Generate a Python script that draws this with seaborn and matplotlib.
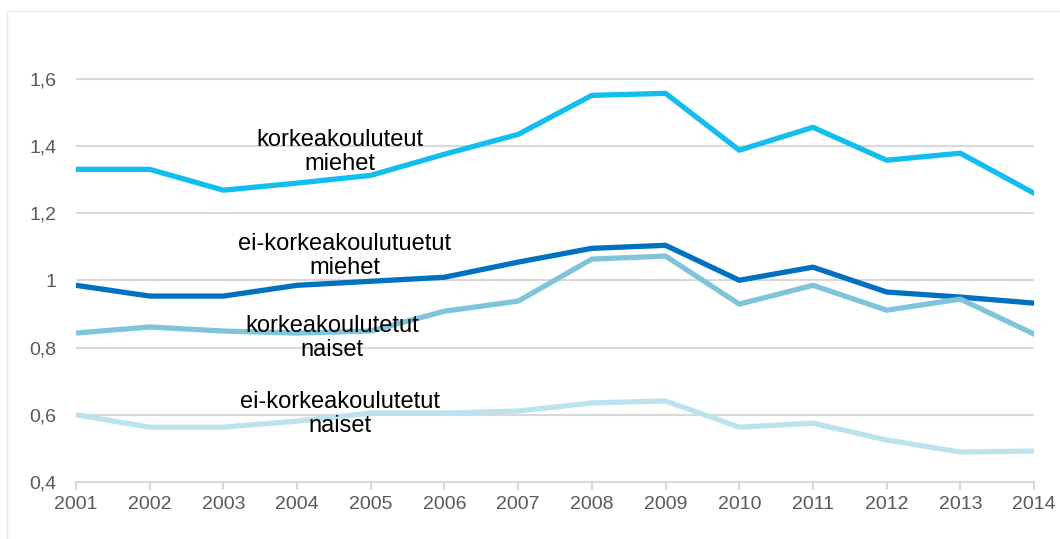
import numpy as np
import pandas as pd
import matplotlib.pyplot as plt
import seaborn as sns
from matplotlib.patches import Rectangle

years = list(range(2001, 2015))
korkea_miehet = [1.330, 1.330, 1.268, 1.289, 1.312, 1.375, 1.434, 1.550, 1.556, 1.387, 1.455, 1.357, 1.378, 1.259]
ei_korkea_miehet = [0.985, 0.953, 0.953, 0.985, 0.997, 1.009, 1.054, 1.095, 1.104, 1.000, 1.039, 0.965, 0.950, 0.932]
korkea_naiset = [0.843, 0.861, 0.849, 0.843, 0.849, 0.908, 0.938, 1.063, 1.072, 0.929, 0.985, 0.911, 0.944, 0.840]
ei_korkea_naiset = [0.600, 0.563, 0.563, 0.581, 0.605, 0.605, 0.611, 0.635, 0.641, 0.563, 0.575, 0.525, 0.489, 0.492]

series = ["korkeakouluteut\nmiehet", "ei-korkeakoulutuetut\nmiehet",
          "korkeakoulutetut\nnaiset", "ei-korkeakoulutetut\nnaiset"]
colors = ["#12BDEF", "#0070C0", "#80C4DC", "#BCE2EE"]

df = pd.DataFrame({
    "year": years * 4,
    "value": korkea_miehet + ei_korkea_miehet + korkea_naiset + ei_korkea_naiset,
    "group": sum([[s] * len(years) for s in series], []),
})

sns.set_style("white")
plt.rcParams['font.family'] = ['Liberation Sans', 'DejaVu Sans']

fig = plt.figure(figsize=(10.6, 5.39), dpi=100)
ax = fig.add_axes([0.0717, 0.1058, 0.9038, 0.842])
fig.patches.append(Rectangle((0.0066, -0.01), 1.0, 0.99, transform=fig.transFigure,
                             fill=False, edgecolor="#E6E6E6", linewidth=1.0))

ax.set_yticks([0.4, 0.6, 0.8, 1.0, 1.2, 1.4, 1.6])
ax.yaxis.grid(True, color="#D9D9D9", linewidth=1.5)
ax.set_axisbelow(True)

sns.lineplot(data=df, x="year", y="value", hue="group", palette=colors,
             hue_order=series, linewidth=3.8, legend=False, ax=ax)

# label positions (year, value)
label_pos = [(2004.58, 1.381), (2004.65, 1.072), (2004.48, 0.828), (2004.58, 0.602)]
for s, (lx, ly) in zip(series, label_pos):
    ax.text(lx, ly, s, ha="center", va="center", fontsize=17, color="#000000",
            linespacing=1.12)

ax.set_xlim(2001, 2014)
ax.set_ylim(0.4, 1.75)
ax.set_xticks(years)
ax.set_xticklabels([str(y) for y in years])
ax.set_yticklabels(["0,4", "0,6", "0,8", "1", "1,2", "1,4", "1,6"])
ax.set_xlabel("")
ax.set_ylabel("")
for side in ["top", "right", "left"]:
    ax.spines[side].set_visible(False)
ax.spines["bottom"].set_color("#D9D9D9")
ax.spines["bottom"].set_linewidth(1.5)
ax.tick_params(axis="x", direction="out", length=6, width=1.5, color="#D9D9D9",
               labelsize=14, labelcolor="#595959", pad=4, bottom=True)
ax.tick_params(axis="y", length=0, labelsize=14, labelcolor="#595959", pad=14)

fig.savefig("out.png", dpi=100)
